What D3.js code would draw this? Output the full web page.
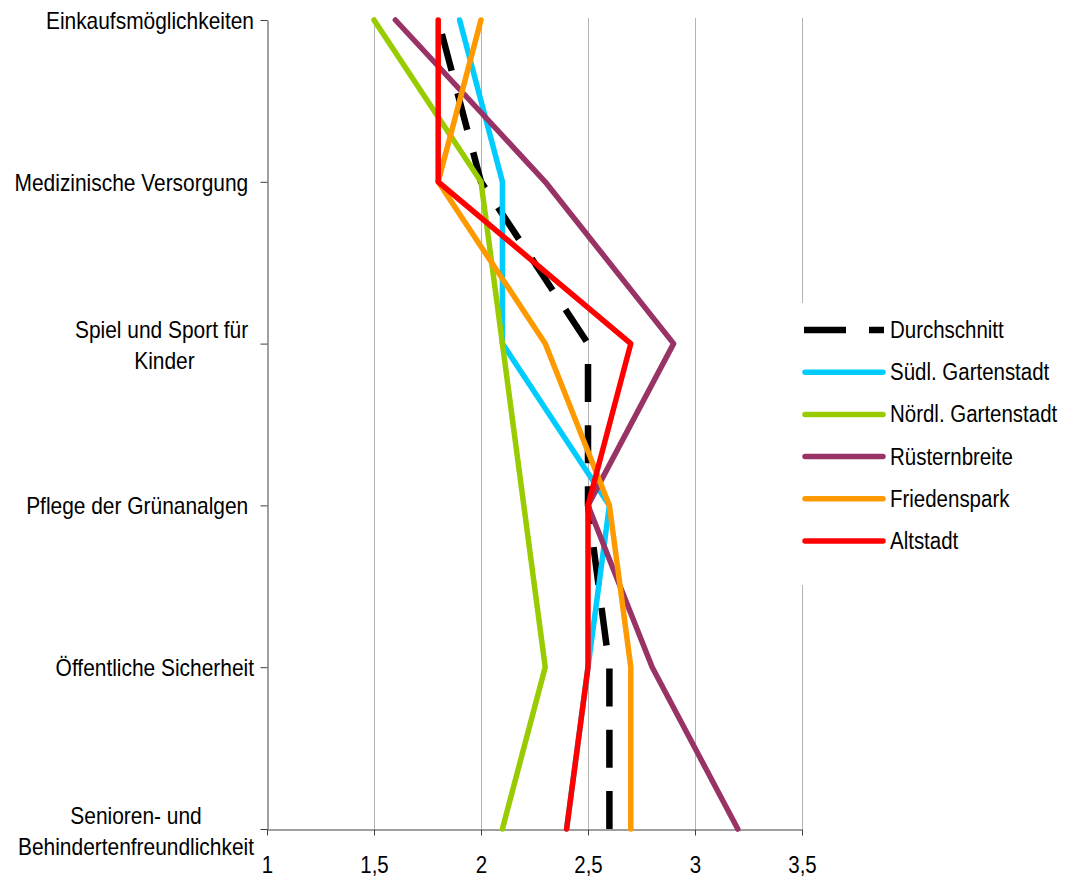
<!DOCTYPE html>
<html>
<head>
<meta charset="utf-8">
<script src="https://cdn.jsdelivr.net/npm/d3@7"></script>
<style>
  html, body { margin: 0; padding: 0; background: #fff; }
  svg { display: block; }
  text { font-family: "Liberation Sans", Arial, sans-serif; fill: #000; white-space: pre; }
</style>
</head>
<body>
<svg id="chart" width="1071" height="879"></svg>
<script>
// ---------- data ----------
const categories = [
  "Einkaufsmöglichkeiten",
  "Medizinische Versorgung",
  "Spiel und Sport für Kinder",
  "Pflege der Grünanalgen",
  "Öffentliche Sicherheit",
  "Senioren- und Behindertenfreundlichkeit"
];
const categoryLines = [
  ["Einkaufsmöglichkeiten"],
  ["Medizinische Versorgung "],
  ["Spiel und Sport für ", "Kinder"],
  ["Pflege der Grünanalgen "],
  ["Öffentliche Sicherheit"],
  ["Senioren- und", "Behindertenfreundlichkeit"]
];
const xTicks = [1, 1.5, 2, 2.5, 3, 3.5];
const seriesNames = ["Durchschnitt", "Südl. Gartenstadt", "Nördl. Gartenstadt", "Rüsternbreite", "Friedenspark", "Altstadt"];
const durchschnitt = [1.8, 2.0, 2.5, 2.5, 2.6, 2.6];
const suedlGartenstadt = [1.9, 2.1, 2.1, 2.6, 2.5, 2.4];
const noerdlGartenstadt = [1.5, 2.0, 2.1, 2.2, 2.3, 2.1];
const ruesternbreite = [1.6, 2.3, 2.9, 2.5, 2.8, 3.2];
const friedenspark = [2.0, 1.8, 2.3, 2.6, 2.7, 2.7];
const altstadt = [1.8, 1.8, 2.7, 2.5, 2.5, 2.4];
const seriesColors = ["#000000", "#00CCFF", "#99CC00", "#993366", "#FF9900", "#FF0000"];

const seriesValues = [durchschnitt, suedlGartenstadt, noerdlGartenstadt, ruesternbreite, friedenspark, altstadt];

// ---------- layout ----------
const svg = d3.select("#chart");
const FS = 23, SX = 0.91;
const x = d3.scaleLinear().domain([1, 3.5]).range([267, 802]);
const y = d3.scalePoint().domain(categories).range([20, 829]);

// gridlines
svg.append("g").selectAll("line")
  .data(xTicks.slice(1))
  .join("line")
  .attr("x1", d => Math.round(x(d)) + 0.5).attr("x2", d => Math.round(x(d)) + 0.5)
  .attr("y1", 18).attr("y2", 829)
  .attr("stroke", "#b3b3b3").attr("stroke-width", 1);

// x axis
const xAxis = svg.append("g")
  .attr("transform", "translate(0,829.5)")
  .call(d3.axisBottom(x).tickValues(xTicks).tickSize(6).tickSizeOuter(0)
    .tickFormat(d => String(d).replace(".", ",")));
xAxis.select(".domain").attr("stroke", "#404040");
xAxis.selectAll(".tick line").attr("stroke", "#404040");
xAxis.selectAll(".tick text")
  .attr("y", 43.5).attr("dy", null)
  .attr("transform", `scale(0.89,1)`)
  .style("font-size", FS + "px")
  .style("font-family", '"Liberation Sans", Arial, sans-serif')
  .attr("fill", "#000");

// y axis
const yAxis = svg.append("g")
  .attr("transform", "translate(267.5,0)")
  .call(d3.axisLeft(y).tickSize(7).tickSizeOuter(0).tickFormat(""));
yAxis.select(".domain").attr("stroke", "#404040");
yAxis.selectAll(".tick line").attr("stroke", "#404040");

// y labels (centered block, right-aligned)
const lineH = 31;
const labelRight = 254;
categories.forEach((c, i) => {
  const lines = categoryLines[i];
  const cy = y(c) + (lines.length > 1 ? 2 : 1);
  const g = svg.append("g").attr("transform", `translate(${labelRight},${cy}) scale(${SX},1)`);
  const texts = lines.map((t, j) => g.append("text")
    .attr("y", (j - (lines.length - 1) / 2) * lineH)
    .attr("dy", "0.35em")
    .style("font-size", FS + "px")
    .text(t));
  const widths = texts.map(t => t.node().getComputedTextLength());
  const maxW = d3.max(widths);
  texts.forEach(t => t.attr("x", -maxW / 2).attr("text-anchor", "middle"));
});

// lines
const lineGen = d3.line()
  .x(d => x(d.v))
  .y(d => y(d.c));

seriesValues.forEach((vals, i) => {
  const pts = vals.map((v, j) => ({ v, c: categories[j] }));
  const p = svg.append("path")
    .datum(pts)
    .attr("d", lineGen)
    .attr("fill", "none")
    .attr("stroke", seriesColors[i]);
  if (i === 0) {
    p.attr("stroke-width", 6.5)
     .attr("stroke-dasharray", "38 23.2")
     .attr("stroke-dashoffset", -14.5)
     .attr("stroke-linecap", "butt")
     .attr("stroke-linejoin", "round");
  } else {
    p.attr("stroke-width", 5.5)
     .attr("stroke-linecap", "round")
     .attr("stroke-linejoin", "round");
  }
});

// legend
const legend = svg.append("g");
legend.append("rect")
  .attr("x", 797).attr("y", 303).attr("width", 272).attr("height", 282)
  .attr("fill", "#fff");
seriesNames.forEach((n, i) => {
  const ly = 330 + i * 42.2;
  if (i === 0) {
    legend.append("line")
      .attr("x1", 804).attr("x2", 884).attr("y1", ly).attr("y2", ly)
      .attr("stroke", seriesColors[i]).attr("stroke-width", 6.5)
      .attr("stroke-dasharray", "42 23");
  } else {
    legend.append("line")
      .attr("x1", 805).attr("x2", 883).attr("y1", ly).attr("y2", ly)
      .attr("stroke", seriesColors[i]).attr("stroke-width", 5.5)
      .attr("stroke-linecap", "round");
  }
  legend.append("text")
    .attr("transform", `translate(890,${ly}) scale(0.89,1)`)
    .attr("dy", "0.35em")
    .style("font-size", FS + "px")
    .text(n);
});
</script>
</body>
</html>
